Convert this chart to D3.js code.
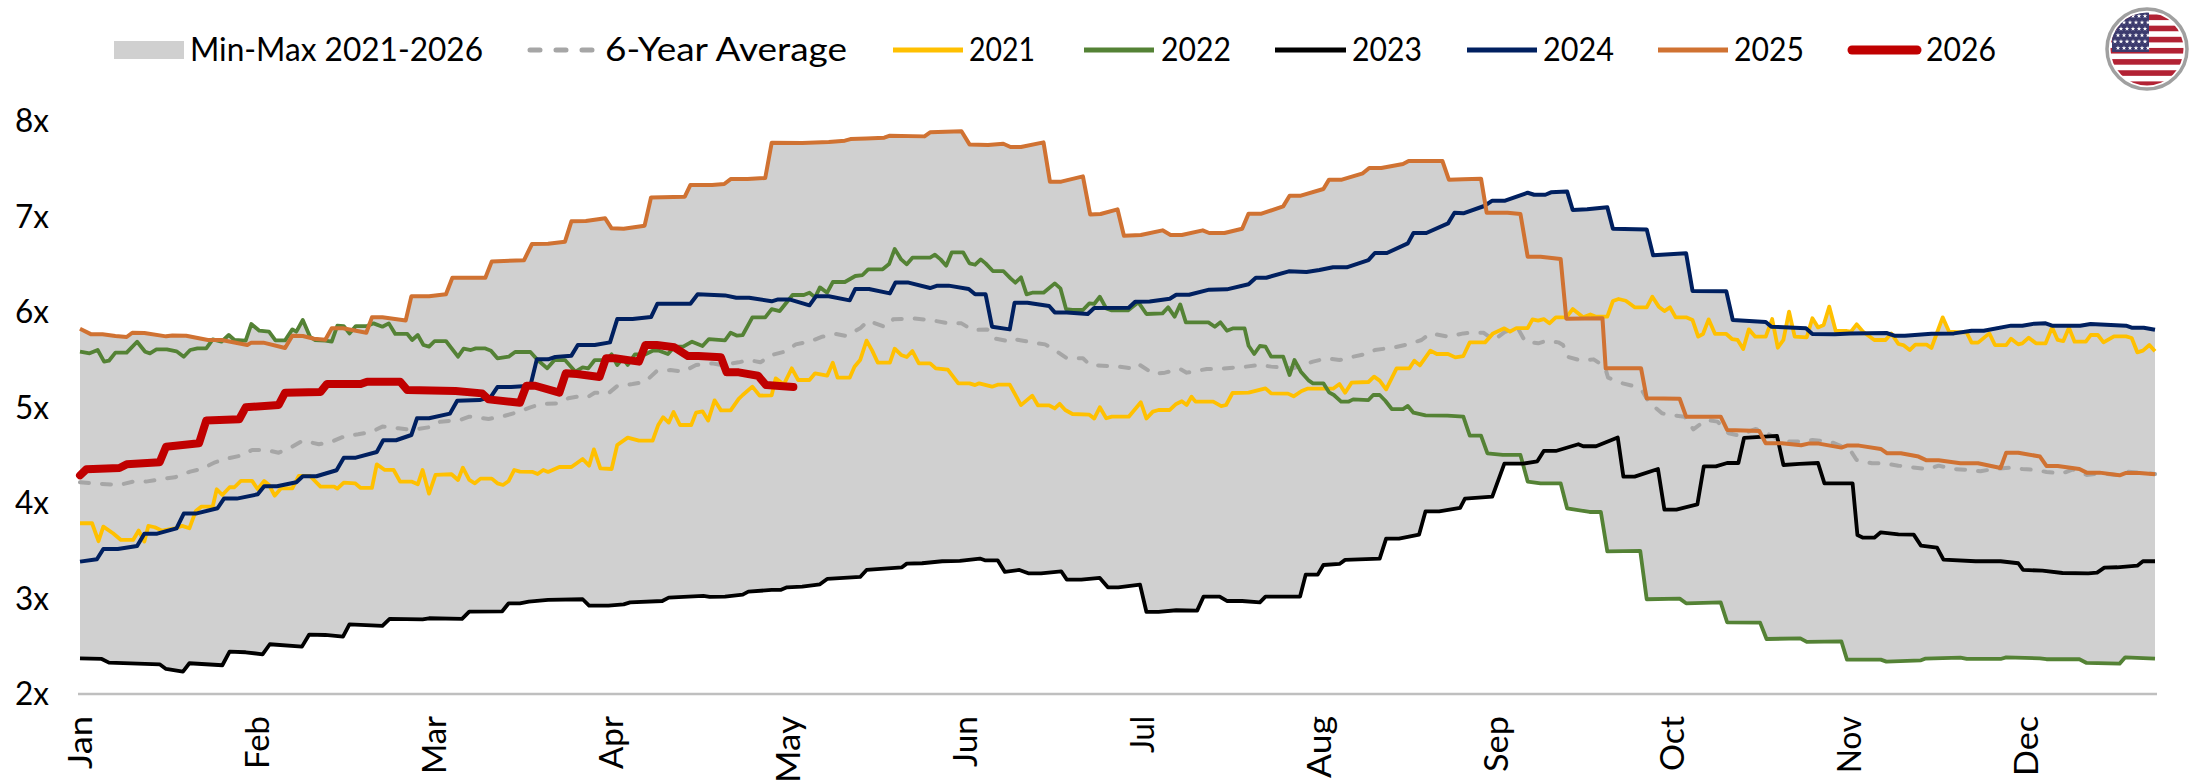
<!DOCTYPE html>
<html><head><meta charset="utf-8">
<script src="https://cdn.jsdelivr.net/npm/d3@7"></script>
<style>html,body{margin:0;padding:0;background:#fff}svg{display:block}text{font-family:"Lato",sans-serif;fill:#000}</style>
</head><body><svg id="c" width="2196" height="784"></svg>
<script>
// Each series: [trading-day index in the year, multiple].
const months = ["Jan","Feb","Mar","Apr","May","Jun","Jul","Aug","Sep","Oct","Nov","Dec"];
const monthStartDay = [0,22,44,66,88,110,132,154,176,198,220,242];
const yTicks = [2,3,4,5,6,7,8];
const y2025 = [[0,5.825],[1.4,5.766],[2.8,5.766],[4.4,5.749],[5.8,5.738],[6.5,5.783],[8,5.78],[10.7,5.745],[11.5,5.755],[13.2,5.752],[15.9,5.707],[17.6,5.707],[20.8,5.654],[21.3,5.679],[22.8,5.679],[25.5,5.623],[26.4,5.752],[27.7,5.749],[29.1,5.72],[30.5,5.71],[31.3,5.829],[32.7,5.829],[35.6,5.783],[36.3,5.944],[37.6,5.944],[40.5,5.912],[41.2,6.164],[43.4,6.164],[45.5,6.185],[46.3,6.359],[50.4,6.359],[51.2,6.53],[55.2,6.541],[56.2,6.712],[58.2,6.715],[60.3,6.736],[61.1,6.949],[62.9,6.953],[65.3,6.981],[66.1,6.876],[67.6,6.872],[70.2,6.904],[71,7.2],[75.2,7.207],[75.9,7.33],[78.6,7.33],[80.1,7.34],[80.9,7.392],[83,7.392],[85.2,7.403],[86,7.772],[89.8,7.77],[93.1,7.78],[95.1,7.794],[95.8,7.811],[97.8,7.818],[100,7.825],[100.7,7.846],[105,7.839],[105.7,7.881],[109.6,7.892],[110.6,7.755],[112.9,7.748],[114.8,7.762],[115.7,7.728],[117,7.728],[119.8,7.776],[120.6,7.365],[122,7.365],[124.7,7.42],[125.6,7.022],[126.9,7.026],[129,7.075],[129.8,6.799],[131.9,6.806],[134.6,6.855],[135.6,6.806],[137,6.806],[139.6,6.855],[140.4,6.827],[142.3,6.827],[144.5,6.872],[145.3,7.03],[146.9,7.03],[149.6,7.106],[150.4,7.218],[151.8,7.218],[154.6,7.288],[155.3,7.386],[156.9,7.386],[159.5,7.452],[160.3,7.508],[161.8,7.508],[164.5,7.55],[165.2,7.581],[169.4,7.581],[170.2,7.386],[172,7.389],[174.2,7.396],[174.9,7.04],[177.5,7.04],[179.1,7.026],[180,6.579],[181.6,6.579],[184.1,6.555],[184.8,5.93],[189.3,5.934],[189.7,5.41],[194.1,5.41],[194.8,5.096],[198.9,5.092],[199.7,4.904],[204,4.904],[204.8,4.765],[208.8,4.754],[209.6,4.625],[211.6,4.625],[214,4.604],[214.9,4.622],[216.2,4.622],[219,4.58],[219.7,4.601],[221.2,4.601],[223.9,4.566],[224.7,4.52],[226.4,4.52],[228.6,4.486],[229.6,4.447],[231.1,4.447],[233.8,4.416],[236,4.416],[238.8,4.367],[239.5,4.527],[241,4.527],[243.7,4.486],[244.5,4.388],[245.9,4.388],[248.6,4.356],[249.5,4.318],[251.1,4.318],[253.6,4.29],[254.4,4.315],[256.1,4.315],[258,4.30]];
const y2023 = [[0,2.374],[2.7,2.367],[3.6,2.329],[9.9,2.311],[10.7,2.262],[12.8,2.234],[13.6,2.322],[17.7,2.301],[18.6,2.444],[20.6,2.437],[22.7,2.416],[23.6,2.521],[27.6,2.496],[28.5,2.622],[30.5,2.618],[32.7,2.601],[33.5,2.73],[37.6,2.713],[38.5,2.786],[42.6,2.782],[43.4,2.793],[47.5,2.786],[48.4,2.863],[52.5,2.866],[53.3,2.95],[54.7,2.95],[55.8,2.967],[58.2,2.985],[62.5,2.992],[63.3,2.925],[65.7,2.925],[67.6,2.939],[68.4,2.96],[72.4,2.974],[73.2,3.009],[77.5,3.027],[78.3,3.016],[80.2,3.02],[82.4,3.041],[83.1,3.072],[86,3.09],[87.1,3.09],[87.9,3.117],[89.8,3.124],[92,3.149],[92.9,3.205],[97,3.226],[97.8,3.299],[102.2,3.327],[102.8,3.365],[104.7,3.369],[107.2,3.39],[109.4,3.393],[111.9,3.418],[112.5,3.4],[114.1,3.4],[115,3.278],[116.8,3.299],[117.9,3.264],[119.5,3.264],[122,3.285],[122.7,3.198],[124.5,3.198],[126.8,3.215],[127.8,3.117],[129.1,3.117],[131.8,3.145],[132.6,2.859],[134.1,2.859],[136.3,2.877],[138.9,2.873],[139.7,3.02],[141.7,3.02],[142.6,2.974],[144.5,2.974],[146.7,2.96],[147.4,3.02],[151.7,3.02],[152.4,3.25],[153.9,3.25],[154.6,3.351],[156.6,3.362],[157.3,3.404],[161.6,3.418],[162.4,3.627],[164,3.627],[166.5,3.669],[167.3,3.913],[169,3.913],[171.6,3.948],[172.2,4.046],[175.6,4.067],[177.1,4.412],[179.4,4.412],[181.2,4.437],[182,4.545],[183.5,4.545],[186.3,4.615],[186.9,4.594],[188.5,4.594],[191.2,4.685],[191.9,4.276],[193.3,4.276],[196.2,4.356],[197,3.931],[198.5,3.931],[201.1,3.986],[201.9,4.384],[203.4,4.384],[204.8,4.419],[206.2,4.419],[206.9,4.681],[211,4.702],[211.8,4.398],[213.8,4.409],[216.1,4.419],[216.9,4.206],[220.4,4.206],[221,3.665],[221.7,3.637],[223.1,3.637],[223.9,3.693],[226.1,3.672],[228,3.669],[228.9,3.554],[230.9,3.533],[231.7,3.407],[235.7,3.39],[238.8,3.39],[241,3.369],[241.6,3.299],[244,3.292],[246.5,3.267],[249.7,3.264],[250.8,3.271],[251.7,3.323],[253.3,3.327],[255.8,3.344],[256.5,3.39],[258,3.39]];
const y2022 = [[0,5.584],[1.2,5.567],[2.2,5.602],[3,5.48],[3.6,5.49],[4.4,5.574],[5.8,5.574],[7.1,5.689],[8.1,5.584],[8.7,5.567],[9.5,5.609],[10.8,5.609],[12,5.588],[12.9,5.532],[13.7,5.602],[14.6,5.619],[15.7,5.619],[16.5,5.714],[17.6,5.689],[18.5,5.759],[19.2,5.707],[20.6,5.7],[21.3,5.874],[22.3,5.804],[23.5,5.794],[24.3,5.703],[25.5,5.703],[26.4,5.818],[26.9,5.794],[27.7,5.916],[28.6,5.741],[29.2,5.707],[30.5,5.7],[31.3,5.689],[32,5.857],[32.8,5.853],[33.5,5.776],[34.3,5.853],[35.7,5.853],[36.5,5.881],[37.6,5.846],[38.4,5.881],[39.2,5.77],[40.7,5.77],[41.3,5.707],[42,5.759],[42.7,5.654],[43.4,5.637],[44.1,5.696],[45.5,5.696],[47,5.532],[47.7,5.616],[48.6,5.602],[49.2,5.619],[50.4,5.619],[51.1,5.595],[51.9,5.515],[53.3,5.532],[54.1,5.581],[56,5.581],[56.9,5.497],[58.1,5.41],[59,5.497],[60.3,5.497],[61.6,5.375],[62.5,5.42],[63.2,5.41],[64,5.497],[65.4,5.497],[66.1,5.557],[66.8,5.445],[67.5,5.515],[68.1,5.445],[69,5.557],[70.3,5.557],[71.2,5.595],[72,5.595],[73.1,5.56],[73.9,5.637],[75,5.637],[76.1,5.689],[77.4,5.644],[78.2,5.717],[80.2,5.703],[80.9,5.783],[81.7,5.752],[82.4,5.759],[83.6,5.944],[85.2,5.944],[86,6.03],[87,6.01],[88.6,6.178],[90,6.178],[90.7,6.202],[91.4,6.153],[92,6.258],[92.9,6.202],[93.6,6.314],[95.1,6.314],[96.4,6.377],[97.3,6.387],[98,6.447],[99.8,6.447],[100.6,6.502],[101.3,6.66],[102.1,6.551],[102.8,6.499],[103.5,6.569],[105.7,6.569],[106.3,6.6],[107,6.551],[107.7,6.485],[108.4,6.625],[109.8,6.625],[110.6,6.509],[111.3,6.495],[112,6.551],[112.6,6.509],[113.5,6.429],[114.8,6.429],[115.7,6.352],[116.3,6.307],[117,6.363],[117.7,6.185],[118.4,6.202],[119.8,6.202],[121.2,6.3],[121.9,6.248],[122.6,6.031],[123.4,6.021],[124.7,6.021],[125.5,6.091],[126.1,6.084],[126.8,6.16],[127.6,6.038],[128.3,6.017],[130.3,6.017],[131.6,6.101],[132.6,5.979],[134.6,5.986],[135.3,6.049],[136.1,5.951],[136.8,6.08],[137.5,5.892],[140.3,5.892],[141.1,5.846],[141.8,5.892],[142.6,5.804],[143.4,5.829],[144.8,5.829],[145.3,5.647],[146,5.56],[146.7,5.644],[147.4,5.637],[148.1,5.532],[149.6,5.532],[150.4,5.34],[151,5.497],[151.8,5.375],[152.8,5.281],[153.3,5.253],[154.6,5.253],[155.3,5.159],[155.9,5.131],[156.8,5.061],[157.7,5.061],[158.3,5.085],[160.2,5.078],[160.8,5.131],[161.6,5.131],[162.3,5.071],[163.1,4.984],[164.5,4.984],[165.1,5.016],[165.8,4.946],[167.3,4.918],[170,4.915],[172,4.904],[172.8,4.706],[174.2,4.706],[175,4.52],[176.9,4.503],[179.1,4.503],[180,4.224],[181.6,4.206],[184.1,4.206],[184.9,3.945],[187.7,3.906],[189.1,3.906],[189.9,3.494],[194,3.498],[194.8,2.992],[198.9,2.999],[199.7,2.95],[204,2.96],[204.8,2.751],[208.9,2.747],[209.7,2.576],[213.9,2.583],[214.7,2.545],[219,2.552],[219.7,2.36],[223.9,2.36],[224.6,2.339],[228.9,2.353],[229.4,2.37],[233.8,2.381],[234.6,2.367],[238.8,2.367],[239.5,2.384],[243.7,2.374],[244.5,2.364],[248.6,2.364],[249.5,2.325],[253.6,2.318],[254.3,2.384],[258,2.37]];
const y2024 = [[0,3.386],[2.1,3.411],[2.9,3.519],[4.7,3.519],[7.1,3.55],[8,3.679],[9.6,3.679],[12,3.735],[12.9,3.889],[14.4,3.889],[17.1,3.945],[17.9,4.046],[19.5,4.046],[22.1,4.091],[22.9,4.175],[24.5,4.175],[26.9,4.217],[27.7,4.28],[29.4,4.28],[31.9,4.343],[32.8,4.475],[34.3,4.475],[36.9,4.534],[37.7,4.657],[39.3,4.657],[41.2,4.712],[41.9,4.887],[43.4,4.887],[46,4.936],[46.9,5.07],[49.7,5.078],[51.1,5.113],[51.9,5.214],[53.6,5.214],[56,5.228],[56.8,5.504],[58.2,5.504],[59.1,5.529],[61.1,5.543],[61.9,5.654],[64,5.654],[65.9,5.682],[66.8,5.926],[68.7,5.926],[71,5.947],[71.8,6.087],[75.9,6.087],[76.8,6.185],[80.2,6.174],[81.6,6.15],[83.2,6.15],[86,6.112],[86.8,6.132],[88.2,6.132],[90.7,6.07],[91.5,6.164],[93.1,6.164],[95.7,6.122],[96.4,6.241],[98.1,6.241],[100.7,6.195],[101.4,6.31],[102.9,6.31],[105.7,6.251],[106.6,6.276],[108,6.276],[110.5,6.241],[111.3,6.185],[112.6,6.185],[113.4,5.846],[115.6,5.818],[116.2,6.097],[117.8,6.097],[120.5,6.063],[121.2,5.996],[122.7,5.996],[125.3,5.979],[126.1,6.042],[130.4,6.045],[131.2,6.108],[133,6.111],[135.5,6.139],[136.3,6.181],[137.9,6.181],[140.4,6.234],[142.6,6.237],[145.3,6.29],[146.2,6.359],[147.5,6.359],[150.3,6.426],[152.5,6.419],[154.1,6.44],[155.8,6.468],[157.5,6.468],[160.2,6.544],[161,6.618],[162.5,6.618],[165.1,6.719],[165.8,6.827],[167.4,6.827],[170.1,6.928],[170.9,7.04],[172,7.033],[174.6,7.11],[175.6,7.166],[177.2,7.166],[180,7.249],[180.8,7.228],[182.2,7.228],[182.9,7.253],[184.9,7.263],[185.6,7.068],[187.4,7.075],[189.9,7.096],[190.6,6.872],[194.8,6.865],[195.6,6.593],[199.7,6.614],[200.5,6.22],[204.7,6.216],[205.5,5.916],[209.6,5.895],[210.3,5.846],[214.6,5.829],[215.4,5.77],[218.2,5.766],[220.1,5.776],[224.6,5.78],[225.6,5.752],[226.9,5.752],[230.2,5.773],[233,5.776],[235.2,5.804],[236.7,5.804],[240.1,5.857],[241.5,5.857],[243,5.878],[244.4,5.881],[245.2,5.857],[248.7,5.857],[250,5.874],[254.4,5.857],[255.1,5.836],[256.6,5.836],[258,5.815]];
const y2021 = [[0,3.788],[1.5,3.788],[2.3,3.6],[2.9,3.753],[4.1,3.683],[5.1,3.613],[6.6,3.613],[7.3,3.711],[8,3.596],[8.5,3.76],[9.3,3.746],[10.2,3.711],[11.8,3.735],[12.7,3.76],[13.6,3.735],[14.4,3.917],[15.1,3.962],[16.5,3.962],[17,4.144],[17.7,4.084],[18.6,4.165],[19.2,4.165],[20,4.231],[21.4,4.231],[22.1,4.144],[22.9,4.231],[23.5,4.189],[24.2,4.077],[25,4.154],[26.4,4.154],[27.2,4.283],[28.6,4.283],[29.9,4.171],[31.6,4.171],[32,4.15],[32.8,4.213],[34.2,4.206],[34.9,4.158],[36.3,4.158],[36.9,4.405],[37.9,4.346],[39,4.346],[39.8,4.224],[41.2,4.224],[42,4.196],[42.6,4.346],[43.4,4.098],[44.2,4.294],[46.2,4.301],[47,4.241],[47.6,4.37],[48.4,4.241],[49.1,4.206],[49.8,4.255],[51.2,4.255],[51.9,4.206],[52.6,4.189],[53.3,4.231],[54,4.346],[54.7,4.329],[56.3,4.325],[56.9,4.304],[57.6,4.346],[58.2,4.325],[59.6,4.377],[61.1,4.377],[62.5,4.461],[63.3,4.391],[63.9,4.562],[64.7,4.363],[66.1,4.356],[66.8,4.608],[68.1,4.685],[69.5,4.653],[71.2,4.653],[71.9,4.817],[72.5,4.898],[73.2,4.842],[73.8,4.953],[74.6,4.817],[76,4.817],[76.6,4.946],[77.4,4.96],[78.1,4.863],[78.9,5.075],[79.7,4.97],[80.9,4.97],[81.9,5.09],[82.4,5.131],[83.6,5.218],[84.5,5.124],[86,5.128],[86.5,5.305],[87.5,5.24],[88.5,5.41],[89.3,5.288],[90.7,5.288],[91.4,5.358],[92.9,5.333],[93.6,5.469],[94.2,5.312],[95.7,5.312],[96.3,5.427],[97,5.497],[97.8,5.7],[98.5,5.595],[99.2,5.469],[100.7,5.469],[101.3,5.616],[102.1,5.55],[102.8,5.529],[103.5,5.591],[104.3,5.462],[105.7,5.462],[106.4,5.41],[107.9,5.396],[109.2,5.253],[110.6,5.253],[111.3,5.235],[111.8,5.253],[113.4,5.218],[114.1,5.239],[115.6,5.239],[116.2,5.148],[117,5.025],[118.4,5.124],[119.1,5.023],[120.5,5.023],[121.2,4.99],[121.8,5.038],[122.5,4.974],[123.4,4.932],[125.5,4.925],[126.1,4.884],[126.8,5.002],[127.6,4.887],[128.3,4.904],[130.4,4.904],[131.9,5.055],[132.6,4.884],[133.4,4.957],[134.1,4.974],[135.5,4.974],[136.3,5.037],[137,5.065],[137.6,5.027],[138.2,5.113],[138.7,5.061],[140.9,5.061],[141.9,5.015],[142.5,5.026],[143.3,5.152],[145.3,5.155],[147.4,5.2],[148.1,5.148],[150.2,5.145],[150.9,5.117],[151.9,5.173],[152.6,5.197],[155.8,5.197],[156.6,5.246],[157.3,5.155],[158.1,5.26],[160.2,5.267],[160.9,5.323],[161.6,5.281],[162.4,5.19],[163.7,5.41],[165.3,5.41],[165.9,5.49],[166.6,5.441],[167.9,5.595],[168.7,5.56],[170.1,5.56],[171,5.525],[172,5.539],[172.8,5.682],[174.7,5.682],[175.7,5.776],[177.1,5.829],[177.8,5.794],[178.6,5.832],[180,5.832],[180.6,5.923],[181.3,5.909],[182,5.926],[182.7,5.881],[183.5,5.944],[184.8,5.944],[185.6,6.031],[186.9,5.944],[187.8,5.975],[188.5,5.951],[189.9,5.951],[190.6,6.115],[191.3,6.136],[192.2,6.118],[193.3,6.049],[194.8,6.049],[195.5,6.16],[196.3,6.056],[197,6.01],[197.7,6.049],[198.4,5.944],[199.7,5.944],[200.5,5.916],[201.2,5.742],[201.8,5.77],[202.5,5.923],[203.3,5.77],[204.7,5.77],[205.4,5.717],[206.1,5.707],[206.8,5.612],[207.5,5.818],[208.3,5.742],[209.6,5.742],[210.4,5.926],[211.1,5.626],[211.8,5.707],[212.5,6.003],[213.2,5.742],[214.7,5.735],[215.4,5.934],[216.1,5.839],[216.8,5.864],[217.5,6.056],[218.3,5.801],[219.7,5.801],[220.2,5.794],[220.9,5.871],[221.7,5.794],[223.1,5.707],[224.5,5.707],[225.2,5.776],[226.1,5.665],[226.7,5.654],[227.5,5.602],[228.2,5.658],[229.6,5.658],[230.2,5.623],[231.6,5.944],[232.4,5.794],[234.6,5.783],[235.2,5.679],[236,5.679],[237.4,5.776],[238.1,5.654],[239.5,5.654],[240.1,5.721],[241,5.661],[241.5,5.672],[242.3,5.731],[243.2,5.672],[244.4,5.672],[245.2,5.839],[245.9,5.707],[246.6,5.696],[247.3,5.836],[248,5.689],[249.4,5.689],[250,5.759],[250.9,5.759],[251.6,5.682],[252.9,5.745],[254.4,5.745],[255.1,5.728],[255.8,5.578],[256.5,5.595],[257.3,5.654],[258,5.588]];
const y2026 = [[0,4.29],[0.8,4.353],[4.9,4.367],[5.8,4.405],[9.9,4.426],[10.7,4.59],[14.8,4.625],[15.7,4.863],[19.8,4.877],[20.6,5.002],[24.7,5.027],[25.5,5.155],[29.9,5.162],[30.7,5.246],[34.9,5.246],[35.7,5.27],[39.8,5.27],[40.7,5.183],[46.7,5.173],[50,5.148],[50.8,5.085],[54.7,5.05],[55.5,5.228],[56.6,5.228],[59.6,5.155],[60.4,5.358],[61.8,5.351],[64.6,5.319],[65.4,5.515],[66.5,5.515],[69.5,5.48],[70.3,5.654],[71.7,5.654],[73.9,5.63],[75.6,5.539],[76.9,5.539],[79.7,5.525],[80.4,5.368],[81.9,5.368],[84.3,5.333],[85.3,5.235],[88.7,5.215]];
const yAvg = [[0,4.217],[1.4,4.206],[4.9,4.189],[6.6,4.224],[8.2,4.224],[10.2,4.252],[11.8,4.269],[13.7,4.329],[15.1,4.356],[16.8,4.426],[18.1,4.461],[20,4.496],[21.4,4.555],[23.1,4.555],[24.7,4.527],[26.4,4.59],[27.7,4.653],[29.7,4.615],[31.3,4.643],[33,4.702],[34.6,4.719],[36.3,4.747],[37.6,4.8],[39.6,4.782],[41.2,4.765],[43.4,4.793],[44.8,4.852],[47.3,4.87],[48.4,4.904],[50.8,4.88],[52.7,4.911],[54.4,4.95],[56,5.002],[57.4,5.037],[59.3,5.043],[60.7,5.096],[62.4,5.124],[63.2,5.113],[64,5.155],[65.7,5.148],[66.8,5.225],[68.7,5.246],[70.3,5.27],[71.7,5.382],[73.4,5.392],[75,5.375],[76.6,5.445],[78.6,5.462],[79.7,5.445],[81.9,5.473],[83.2,5.497],[84.6,5.473],[86,5.55],[87.6,5.584],[89,5.661],[90.9,5.696],[92.3,5.742],[94,5.77],[95.3,5.749],[97,5.829],[98,5.909],[100,5.846],[100.8,5.881],[101.1,5.923],[103.5,5.934],[106,5.912],[108,5.881],[109.6,5.881],[111,5.811],[112.8,5.818],[113.7,5.724],[115.7,5.689],[116.3,5.714],[119,5.672],[120,5.661],[121.2,5.602],[122.7,5.515],[124.7,5.515],[125.6,5.445],[129.1,5.428],[130.8,5.41],[131.6,5.455],[133.5,5.351],[134.9,5.365],[136.8,5.403],[137.6,5.365],[140.1,5.403],[141.5,5.403],[143.4,5.417],[145,5.428],[146.7,5.445],[148.1,5.428],[150.8,5.41],[153.3,5.48],[155,5.515],[156.6,5.497],[158.3,5.532],[160.2,5.567],[161,5.602],[163.5,5.63],[165.1,5.661],[166.8,5.707],[167.9,5.776],[170.1,5.742],[172,5.776],[173.1,5.783],[174.5,5.783],[175.8,5.707],[177.2,5.794],[178.9,5.811],[179.7,5.689],[181.3,5.672],[182.4,5.7],[183.8,5.682],[184.4,5.654],[184.9,5.532],[186.7,5.49],[188.2,5.504],[189.6,5.427],[190,5.312],[191.8,5.253],[193.2,5.225],[194.3,5.166],[195.1,5.055],[196.7,4.939],[198.1,4.918],[199.5,4.904],[200.6,4.772],[202.2,4.87],[203.6,4.852],[205,4.73],[206.3,4.706],[208.3,4.775],[209.4,4.747],[211.6,4.643],[213.8,4.643],[215.4,4.66],[217.6,4.643],[220.1,4.555],[220.9,4.45],[222.8,4.416],[224.2,4.416],[226.1,4.391],[227.8,4.374],[229.7,4.353],[231.1,4.391],[233,4.356],[234.4,4.349],[236.3,4.332],[237.7,4.353],[240.1,4.37],[241.5,4.356],[243.2,4.346],[244.5,4.325],[246.5,4.311],[247.8,4.353],[249.5,4.294],[251.1,4.311],[253.6,4.29],[254.4,4.329],[258,4.304]];

const C = {avg:"#A6A6A6",y21:"#FFC000",y22:"#548235",y23:"#000000",y24:"#002060",y25:"#D07232",y26:"#C00000",band:"#D0D0D0"};
const svg = d3.select("#c");
const x = d3.scaleLinear().domain([0,258]).range([80,2155]);
const y = d3.scaleLinear().domain([2,8]).range([694,121]);
const allYears = [y2021,y2022,y2023,y2024,y2025];

// Min-max band: envelope of the yearly series at every vertex any of them has.
const at = (s,d)=>{const i=d3.bisector(p=>p[0]).left(s,d);if(i<=0)return s[0][1];if(i>=s.length)return s[s.length-1][1];const a=s[i-1],b=s[i];return a[1]+(b[1]-a[1])*(d-a[0])/(b[0]-a[0]);};
const grid = Array.from(new Set([...allYears,y2026].flat().map(p=>p[0]).concat(d3.range(0,258.01,0.1).map(v=>+v.toFixed(1))))).sort(d3.ascending);
const band = grid.map(d=>{const v=allYears.map(s=>at(s,d));if(d<=88.7)v.push(at(y2026,d));return {d,lo:d3.min(v),hi:d3.max(v)};});
svg.append("path").datum(band).attr("fill",C.band)
  .attr("d",d3.area().x(p=>x(p.d)).y0(p=>y(p.lo)).y1(p=>y(p.hi)));

const line = d3.line().x(p=>x(p[0])).y(p=>y(p[1]));
const lines = [
 {s:yAvg,c:C.avg,w:4,dash:"9 13"},
 {s:y2021,c:C.y21,w:3.8},{s:y2022,c:C.y22,w:3.8},{s:y2023,c:C.y23,w:3.8},
 {s:y2024,c:C.y24,w:4},{s:y2025,c:C.y25,w:4},{s:y2026,c:C.y26,w:8,cap:"round"}];
svg.selectAll("path.l").data(lines).enter().append("path").attr("class","l")
  .attr("fill","none").attr("stroke",d=>d.c).attr("stroke-width",d=>d.w)
  .attr("stroke-linejoin","round").attr("stroke-linecap",d=>d.cap||(d.dash?"round":"butt"))
  .attr("stroke-dasharray",d=>d.dash||null).attr("d",d=>line(d.s));

// Axes
const gy = svg.append("g").attr("transform","translate(80,0)")
  .call(d3.axisLeft(y).tickValues(yTicks).tickSize(0).tickFormat(d=>d+"x"));
gy.select(".domain").remove();
gy.selectAll("text").attr("x",-65).attr("text-anchor","start").style("font-size","32px").style("font-family","Lato,sans-serif").attr("dy","0.34em")
  .attr("textLength",34).attr("lengthAdjust","spacingAndGlyphs");

const monthLen = [53,53,58,53,67,51,37,62,56,55,57,60];
const gx = svg.append("g").attr("transform","translate(0,694)")
  .call(d3.axisBottom(x).tickValues(monthStartDay).tickSize(0).tickFormat((d,i)=>months[i]));
gx.select(".domain").attr("stroke","#BFBFBF").attr("stroke-width",2.5).attr("d","M78,0H2157");
gx.selectAll("text").attr("text-anchor","end").attr("dy",null).attr("y",null)
  .attr("transform","translate(-1,22) rotate(-90)").attr("dominant-baseline","central")
  .attr("textLength",(d,i)=>monthLen[i]).attr("lengthAdjust","spacingAndGlyphs")
  .style("font-size","32px").style("font-family","Lato,sans-serif");

// Legend
const legend = [
 {t:"Min-Max 2021-2026",kind:"band",k0:114,k1:184,t0:190,t1:483},
 {t:"6-Year Average",c:C.avg,w:5,dash:"10 16",k0:530,k1:598,t0:605,t1:847},
 {t:"2021",c:C.y21,w:5,k0:893,k1:963,t0:969,t1:1035},
 {t:"2022",c:C.y22,w:5,k0:1084,k1:1154,t0:1161,t1:1231},
 {t:"2023",c:C.y23,w:5,k0:1275,k1:1346,t0:1352,t1:1422},
 {t:"2024",c:C.y24,w:5,k0:1467,k1:1537,t0:1543,t1:1614},
 {t:"2025",c:C.y25,w:5,k0:1658,k1:1728,t0:1734,t1:1804},
 {t:"2026",c:C.y26,w:9,k0:1852,k1:1917,t0:1926,t1:1996,cap:"round"}];
const lg = svg.append("g");
legend.forEach(d=>{
  if(d.kind==="band") lg.append("rect").attr("x",d.k0).attr("y",41).attr("width",d.k1-d.k0).attr("height",18).attr("fill",C.band);
  else lg.append("line").attr("x1",d.k0).attr("x2",d.k1).attr("y1",50).attr("y2",50).attr("stroke",d.c).attr("stroke-width",d.w)
        .attr("stroke-dasharray",d.dash||null).attr("stroke-linecap",d.cap||(d.dash?"round":"butt"));
  lg.append("text").attr("x",d.t0).attr("y",61).attr("textLength",d.t1-d.t0).attr("lengthAdjust","spacingAndGlyphs")
    .style("font-size","32px").text(d.t);
});

// Flag badge
const fx=2147,fy=49,fr=40;
const defs=svg.append("defs");
defs.append("clipPath").attr("id","fc").append("circle").attr("cx",fx).attr("cy",fy).attr("r",fr-3.5);
const fg=svg.append("g").attr("clip-path","url(#fc)");
fg.append("rect").attr("x",fx-fr).attr("y",fy-fr).attr("width",2*fr).attr("height",2*fr).attr("fill","#fff");
fg.selectAll("rect.s").data(d3.range(7)).enter().append("rect").attr("class","s")
  .attr("x",fx-fr).attr("width",2*fr).attr("y",d=>14.5+d*11.15).attr("height",5.6).attr("fill","#B22234");
fg.append("rect").attr("x",2112).attr("y",12).attr("width",37).attr("height",40).attr("fill","#3C3B6E");
const star=d3.symbol().type(d3.symbolStar).size(7)();
d3.range(6).forEach(r=>d3.range(6).forEach(c=>{
  fg.append("path").attr("d",star).attr("fill","#fff")
    .attr("transform",`translate(${2115+c*6+(r%2)*3},${16+r*6.4})`);
}));
svg.append("circle").attr("cx",fx).attr("cy",fy).attr("r",fr).attr("fill","none").attr("stroke","#A0A0A0").attr("stroke-width",3.5);
</script></body></html>
